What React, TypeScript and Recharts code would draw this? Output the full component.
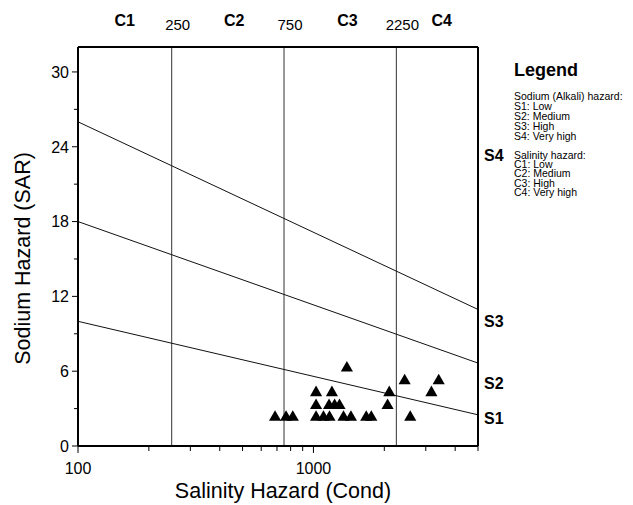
import React from 'react';
import {
  ComposedChart,
  Line,
  Scatter,
  XAxis,
  YAxis,
  ReferenceLine,
} from 'recharts';

const FONT = '"Liberation Sans", Arial, Helvetica, sans-serif';

// salinity (EC) vs SAR samples
const sampleCond = [
  687, 765, 817, 1026, 1103, 1170, 1342, 1443, 1676, 1761, 2577,
  1026, 1165, 1230, 1290, 2065,
  1026, 1198, 2100, 3170,
  2440, 3404,
  1387,
];
const sampleSar = [
  2.3, 2.3, 2.3, 2.3, 2.3, 2.3, 2.3, 2.3, 2.3, 2.3, 2.3,
  3.25, 3.25, 3.25, 3.25, 3.25,
  4.28, 4.28, 4.28, 4.28,
  5.23, 5.23,
  6.26,
];

// sodium hazard class boundaries (SAR at cond = 100 and 5000)
const boundaryCond = [100, 5000];
const boundaryS1S2 = [10, 2.5];
const boundaryS2S3 = [18, 6.65];
const boundaryS3S4 = [26, 10.95];

// salinity class limits
const salinityLimits = [250, 750, 2250];
const salinityClasses = ['C1', 'C2', 'C3', 'C4'];
const salinityClassAt = [158, 461, 1395, 3505];

const sodiumClasses = ['S1', 'S2', 'S3', 'S4'];
const sodiumClassAt = [2.2, 5, 10, 23.3];

const xTicks = [100, 200, 300, 400, 500, 600, 700, 800, 900, 1000, 2000, 3000, 4000, 5000];
const xTickLabels = [100, 1000];
const yTicks = [0, 3, 6, 9, 12, 15, 18, 21, 24, 27, 30];

const sodiumLegend = ['S1: Low', 'S2: Medium', 'S3: High', 'S4: Very high'];
const salinityLegend = ['C1: Low', 'C2: Medium', 'C3: High', 'C4: Very high'];

const samples = sampleCond.map((x, i) => ({ x, y: sampleSar[i] }));
const toLine = (sar: number[]) => boundaryCond.map((x, i) => ({ x, y: sar[i] }));

const topTicks = [...salinityLimits, ...salinityClassAt].sort((a, b) => a - b);

const LeftTick = ({ x, y, payload }: any) => {
  const major = payload.value % 6 === 0;
  return (
    <g>
      <line x1={x - (major ? 6 : 4)} x2={x} y1={y} y2={y} stroke="#000" />
      {major && (
        <text x={x - 9} y={y} dy="0.36em" textAnchor="end" fontSize={16} fontFamily={FONT} fill="#000">
          {payload.value}
        </text>
      )}
    </g>
  );
};

const BottomTick = ({ x, y, payload }: any) => {
  const major = xTickLabels.includes(payload.value);
  return (
    <g>
      <line x1={x} x2={x} y1={y} y2={y + (major ? 7 : 5)} stroke="#000" />
      {major && (
        <text x={x} y={y + 22} dy="0.36em" textAnchor="middle" fontSize={16} fontFamily={FONT} fill="#000">
          {payload.value}
        </text>
      )}
    </g>
  );
};

const TopTick = ({ x, y, payload }: any) => {
  const ci = salinityClassAt.indexOf(payload.value);
  if (ci >= 0) {
    return (
      <text x={x} y={y - 27} dy="0.36em" textAnchor="middle" fontSize={16} fontWeight="bold" fontFamily={FONT} fill="#000">
        {salinityClasses[ci]}
      </text>
    );
  }
  return (
    <text x={x + 6} y={y - 22} dy="0.36em" textAnchor="middle" fontSize={15} fontFamily={FONT} fill="#000">
      {payload.value}
    </text>
  );
};

const RightTick = ({ x, y, payload }: any) => {
  const i = sodiumClassAt.indexOf(payload.value);
  return (
    <text x={x + 6} y={y} dy="0.36em" textAnchor="start" fontSize={16} fontWeight="bold" fontFamily={FONT} fill="#000">
      {sodiumClasses[i]}
    </text>
  );
};

const legendLine: React.CSSProperties = { fontSize: 10.5, lineHeight: '10px', whiteSpace: 'nowrap' };

export default function App() {
  return (
    <div style={{ position: 'absolute', left: 0, top: 0, width: 633, height: 505, background: '#fff', fontFamily: FONT }}>
      <ComposedChart
        width={633}
        height={505}
        margin={{ top: 7, right: 115, bottom: 9, left: 8 }}
      >
        <XAxis
          xAxisId="bottom"
          dataKey="x"
          type="number"
          scale="log"
          domain={[100, 5000]}
          allowDataOverflow
          ticks={xTicks}
          interval={0}
          height={50}
          tickSize={0}
          tickMargin={0}
          tickLine={false}
          tick={<BottomTick />}
          axisLine={{ stroke: '#000', strokeWidth: 2 }}
          label={{
            content: ({ viewBox }: any) => (
              <text
                x={viewBox.x + viewBox.width / 2 + 5}
                y={viewBox.y + 44}
                dy="0.36em"
                textAnchor="middle"
                fontSize={21.5}
                fontFamily={FONT}
                fill="#000"
              >
                Salinity Hazard (Cond)
              </text>
            ),
          }}
        />
        <XAxis
          xAxisId="top"
          dataKey="x"
          type="number"
          orientation="top"
          scale="log"
          domain={[100, 5000]}
          allowDataOverflow
          ticks={topTicks}
          interval={0}
          height={40}
          tickSize={0}
          tickMargin={0}
          tickLine={false}
          tick={<TopTick />}
          axisLine={{ stroke: '#000', strokeWidth: 2 }}
        />
        <YAxis
          yAxisId="left"
          type="number"
          domain={[0, 32]}
          allowDataOverflow
          ticks={yTicks}
          interval={0}
          width={70}
          tickSize={0}
          tickMargin={0}
          tickLine={false}
          tick={<LeftTick />}
          axisLine={{ stroke: '#000', strokeWidth: 2 }}
          label={{
            content: ({ viewBox }: any) => {
              const cx = 22;
              const cy = viewBox.y + viewBox.height / 2 + 12;
              return (
                <text
                  x={cx}
                  y={cy}
                  dy="0.36em"
                  textAnchor="middle"
                  transform={`rotate(-90, ${cx}, ${cy})`}
                  fontSize={21.5}
                  fontFamily={FONT}
                  fill="#000"
                >
                  Sodium Hazard (SAR)
                </text>
              );
            },
          }}
        />
        <YAxis
          yAxisId="right"
          orientation="right"
          type="number"
          domain={[0, 32]}
          allowDataOverflow
          ticks={sodiumClassAt}
          interval={0}
          width={40}
          tickSize={0}
          tickMargin={0}
          tickLine={false}
          tick={<RightTick />}
          axisLine={{ stroke: '#000', strokeWidth: 2 }}
        />
        {salinityLimits.map((v) => (
          <ReferenceLine key={v} x={v} xAxisId="bottom" yAxisId="left" stroke="#333" strokeWidth={1} />
        ))}
        {[boundaryS1S2, boundaryS2S3, boundaryS3S4].map((sar, i) => (
          <Line
            key={i}
            data={toLine(sar)}
            xAxisId="bottom"
            yAxisId="left"
            dataKey="y"
            type="linear"
            stroke="#111"
            strokeWidth={1}
            dot={false}
            activeDot={false}
            isAnimationActive={false}
          />
        ))}
        <Scatter
          data={samples}
          xAxisId="bottom"
          yAxisId="left"
          dataKey="y"
          shape="triangle"
          fill="#000"
          legendType="none"
          isAnimationActive={false}
        />
      </ComposedChart>

      <div style={{ position: 'absolute', left: 514, top: 60, color: '#000' }}>
        <div style={{ fontSize: 18, fontWeight: 'bold', lineHeight: '20px', marginBottom: 11 }}>Legend</div>
        <div style={legendLine}>Sodium (Alkali) hazard:</div>
        {sodiumLegend.map((t) => (
          <div key={t} style={legendLine}>{t}</div>
        ))}
        <div style={{ ...legendLine, marginTop: 10, lineHeight: '9.2px' }}>Salinity hazard:</div>
        {salinityLegend.map((t) => (
          <div key={t} style={{ ...legendLine, lineHeight: '9.2px' }}>{t}</div>
        ))}
      </div>
    </div>
  );
}
